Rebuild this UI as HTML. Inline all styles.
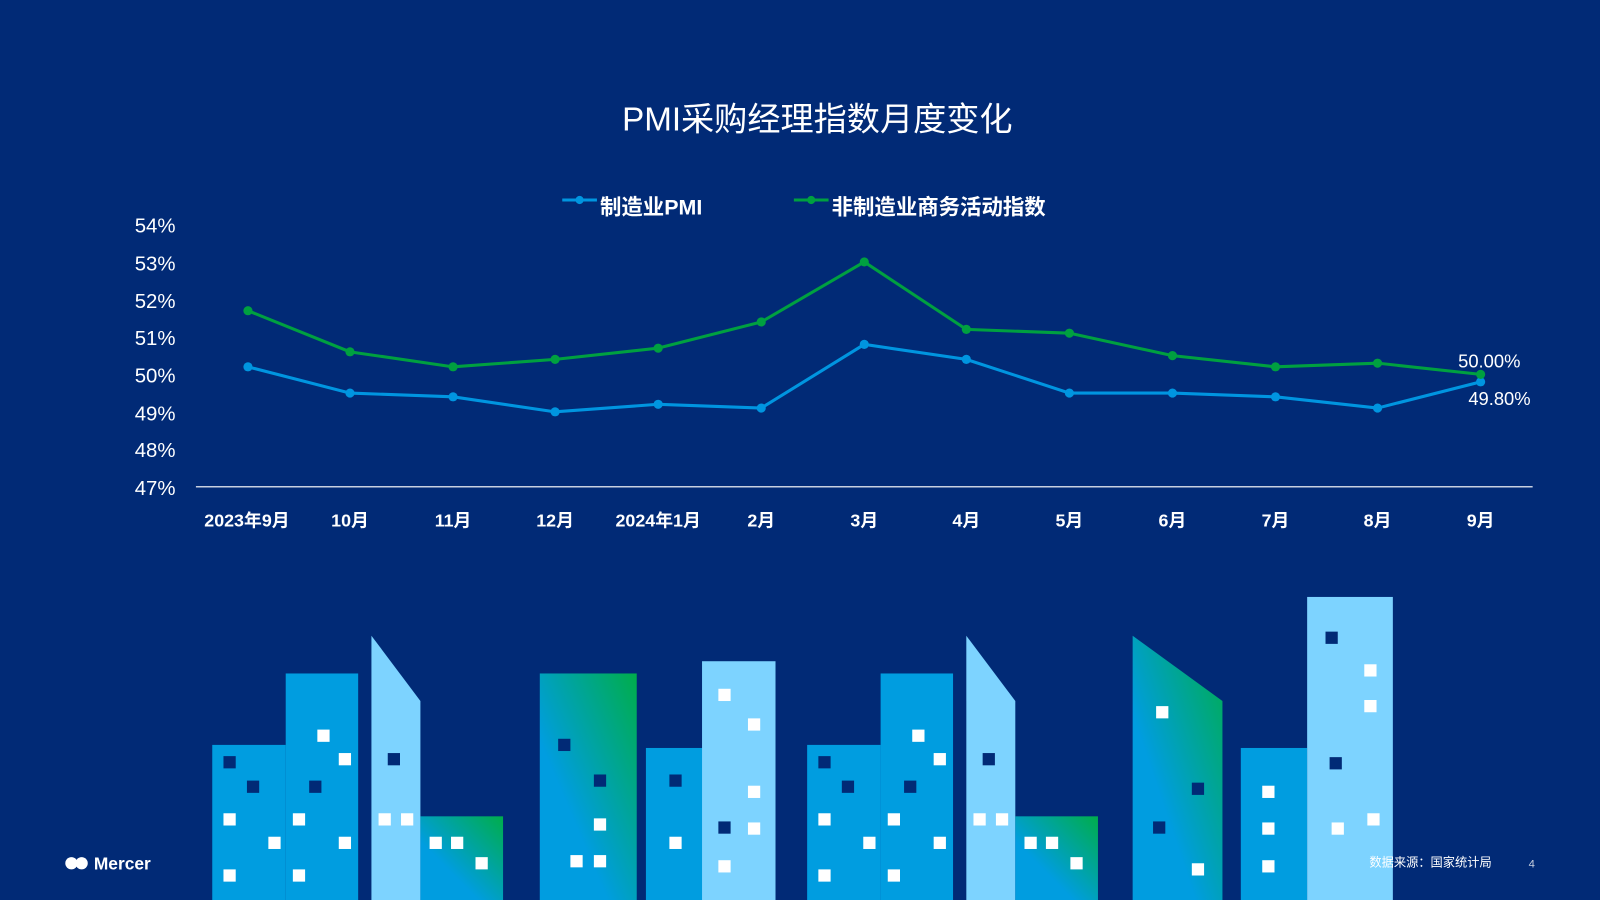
<!DOCTYPE html>
<html><head><meta charset="utf-8"><style>
html,body{margin:0;padding:0;background:#012a76;}
svg{display:block}
text{font-family:"Liberation Sans","Noto Sans CJK SC",sans-serif;}
</style></head><body>
<svg width="1600" height="900" viewBox="0 0 1568 882" xmlns="http://www.w3.org/2000/svg">
<defs>
<linearGradient id="g1" x1="0" y1="1" x2="1" y2="0"><stop offset="0.35" stop-color="#009de0"/><stop offset="1" stop-color="#00ad4b"/></linearGradient>
</defs>
<rect width="1568" height="882" fill="#012a76"/>
<text x="801" y="128" fill="#fff" font-size="32.5" text-anchor="middle">PMI采购经理指数月度变化</text>
<!-- legend -->
<line x1="551" y1="196" x2="585" y2="196" stroke="#0095e0" stroke-width="3"/><circle cx="568" cy="196" r="4" fill="#0095e0"/>
<text x="588" y="210" fill="#fff" font-size="21" font-weight="bold">制造业PMI</text>
<line x1="778" y1="196" x2="812" y2="196" stroke="#00a040" stroke-width="3"/><circle cx="795" cy="196" r="4" fill="#00a040"/>
<text x="815" y="210" fill="#fff" font-size="21" font-weight="bold">非制造业商务活动指数</text>
<!-- y axis -->
<g fill="#fff" font-size="20" text-anchor="end">
<text x="172" y="228">54%</text><text x="172" y="265">53%</text><text x="172" y="302">52%</text><text x="172" y="338">51%</text><text x="172" y="375">50%</text><text x="172" y="412">49%</text><text x="172" y="448">48%</text><text x="172" y="485">47%</text>
</g>
<line x1="192" y1="477" x2="1502" y2="477" stroke="#c8d0e0" stroke-width="1.5"/>
<g fill="#fff" font-size="17.5" font-weight="bold" text-anchor="middle">
<text x="242" y="516">2023年9月</text><text x="343" y="516">10月</text><text x="444" y="516">11月</text><text x="544" y="516">12月</text><text x="645" y="516">2024年1月</text><text x="746" y="516">2月</text><text x="847" y="516">3月</text><text x="947" y="516">4月</text><text x="1048" y="516">5月</text><text x="1149" y="516">6月</text><text x="1250" y="516">7月</text><text x="1350" y="516">8月</text><text x="1451" y="516">9月</text>
</g>
<polyline fill="none" stroke="#0095e0" stroke-width="3" points="243,359.5 343,385.2 444,388.9 544,403.6 645,396.2 746,399.9 847,337.5 947,352.2 1048,385.2 1149,385.2 1250,388.9 1350,399.9 1451,374.2"/>
<g fill="#0095e0"><circle cx="243" cy="359.5" r="4.5"/><circle cx="343" cy="385.2" r="4.5"/><circle cx="444" cy="388.9" r="4.5"/><circle cx="544" cy="403.6" r="4.5"/><circle cx="645" cy="396.2" r="4.5"/><circle cx="746" cy="399.9" r="4.5"/><circle cx="847" cy="337.5" r="4.5"/><circle cx="947" cy="352.2" r="4.5"/><circle cx="1048" cy="385.2" r="4.5"/><circle cx="1149" cy="385.2" r="4.5"/><circle cx="1250" cy="388.9" r="4.5"/><circle cx="1350" cy="399.9" r="4.5"/><circle cx="1451" cy="374.2" r="4.5"/></g>
<polyline fill="none" stroke="#00a040" stroke-width="3" points="243,304.5 343,344.8 444,359.5 544,352.2 645,341.2 746,315.5 847,256.7 947,322.8 1048,326.5 1149,348.5 1250,359.5 1350,355.9 1451,366.9"/>
<g fill="#00a040"><circle cx="243" cy="304.5" r="4.5"/><circle cx="343" cy="344.8" r="4.5"/><circle cx="444" cy="359.5" r="4.5"/><circle cx="544" cy="352.2" r="4.5"/><circle cx="645" cy="341.2" r="4.5"/><circle cx="746" cy="315.5" r="4.5"/><circle cx="847" cy="256.7" r="4.5"/><circle cx="947" cy="322.8" r="4.5"/><circle cx="1048" cy="326.5" r="4.5"/><circle cx="1149" cy="348.5" r="4.5"/><circle cx="1250" cy="359.5" r="4.5"/><circle cx="1350" cy="355.9" r="4.5"/><circle cx="1451" cy="366.9" r="4.5"/></g>
<text x="1490" y="360" fill="#fff" font-size="18" text-anchor="end">50.00%</text>
<text x="1500" y="397" fill="#fff" font-size="18" text-anchor="end">49.80%</text>
<!-- buildings -->
<g id="grpA">
<rect x="208" y="730" width="72" height="152" fill="#009de0"/>
<rect x="280" y="660" width="71" height="222" fill="#009de0"/>
<polygon points="364,623 412,687 412,882 364,882" fill="#7dd3ff"/>
<rect x="412" y="800" width="81" height="82" fill="url(#g1)"/>
<g fill="#fff"><rect x="311" y="715" width="12" height="12"/><rect x="332" y="738" width="12" height="12"/><rect x="219" y="797" width="12" height="12"/><rect x="287" y="797" width="12" height="12"/><rect x="263" y="820" width="12" height="12"/><rect x="332" y="820" width="12" height="12"/><rect x="219" y="852" width="12" height="12"/><rect x="287" y="852" width="12" height="12"/><rect x="371" y="797" width="12" height="12"/><rect x="393" y="797" width="12" height="12"/><rect x="421" y="820" width="12" height="12"/><rect x="442" y="820" width="12" height="12"/><rect x="466" y="840" width="12" height="12"/></g>
<g fill="#012a76"><rect x="219" y="741" width="12" height="12"/><rect x="242" y="765" width="12" height="12"/><rect x="303" y="765" width="12" height="12"/><rect x="380" y="738" width="12" height="12"/></g>
</g>
<use href="#grpA" transform="translate(583,0)"/>
<rect x="529" y="660" width="95" height="222" fill="url(#g1)"/>
<rect x="633" y="733" width="56" height="149" fill="#009de0"/>
<rect x="688" y="648" width="72" height="234" fill="#7dd3ff"/>
<polygon points="1110,623 1198,687 1198,882 1110,882" fill="url(#g1)"/>
<rect x="1216" y="733" width="65" height="149" fill="#009de0"/>
<rect x="1281" y="585" width="84" height="297" fill="#7dd3ff"/>
<g fill="#fff"><rect x="582" y="802" width="12" height="12"/><rect x="559" y="838" width="12" height="12"/><rect x="582" y="838" width="12" height="12"/><rect x="656" y="820" width="12" height="12"/><rect x="704" y="675" width="12" height="12"/><rect x="733" y="704" width="12" height="12"/><rect x="733" y="770" width="12" height="12"/><rect x="733" y="806" width="12" height="12"/><rect x="704" y="843" width="12" height="12"/>
<rect x="1133" y="692" width="12" height="12"/><rect x="1168" y="846" width="12" height="12"/><rect x="1237" y="770" width="12" height="12"/><rect x="1237" y="806" width="12" height="12"/><rect x="1237" y="843" width="12" height="12"/><rect x="1337" y="651" width="12" height="12"/><rect x="1337" y="686" width="12" height="12"/><rect x="1340" y="797" width="12" height="12"/><rect x="1305" y="806" width="12" height="12"/></g>
<g fill="#012a76"><rect x="547" y="724" width="12" height="12"/><rect x="582" y="759" width="12" height="12"/><rect x="656" y="759" width="12" height="12"/><rect x="704" y="805" width="12" height="12"/><rect x="1168" y="767" width="12" height="12"/><rect x="1130" y="805" width="12" height="12"/><rect x="1299" y="619" width="12" height="12"/><rect x="1303" y="742" width="12" height="12"/></g>
<!-- footer -->
<g fill="#fff"><circle cx="70" cy="846" r="6"/><circle cx="80" cy="846" r="6"/></g>
<text x="92" y="852" fill="#fff" font-size="17" font-weight="bold">Mercer</text>
<text x="1342" y="849" fill="#fff" font-size="12">数据来源：国家统计局</text>
<text x="1498" y="850" fill="#c8d0e0" font-size="11">4</text>
</svg>
</body></html>
